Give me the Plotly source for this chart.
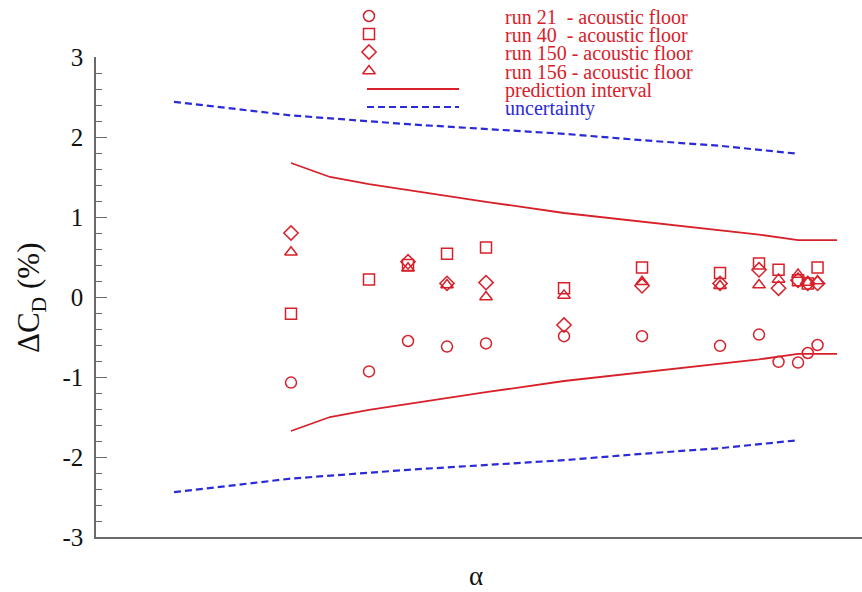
import plotly.graph_objects as go

# Angle-of-attack stations (arbitrary units; axis carries no tick labels)
alpha = [0, 2, 3, 4, 5, 7, 9, 11, 12, 12.5, 13, 13.25, 13.5]

# Delta C_D (%) per run
run21 = [-1.07, -0.93, -0.55, -0.62, -0.58, -0.49, -0.49, -0.61, -0.47, -0.81, -0.82, -0.70, -0.60]
run40 = [-0.21, 0.22, 0.40, 0.54, 0.62, 0.11, 0.37, 0.30, 0.42, 0.34, 0.21, 0.17, 0.37]
run150 = [0.80, None, 0.44, 0.17, 0.18, -0.35, 0.14, 0.17, 0.34, 0.11, 0.21, 0.17, 0.17]
run156 = [0.56, None, 0.36, 0.15, 0.00, 0.02, 0.19, 0.14, 0.15, 0.22, 0.28, 0.18, 0.20]

# Prediction interval half-width (%)
pi_alpha = [0, 1, 2, 4, 5, 7, 9, 11, 12, 13, 14]
pi_half = [1.675, 1.50, 1.41, 1.26, 1.19, 1.05, 0.94, 0.83, 0.78, 0.71, 0.71]

# Measurement uncertainty half-width (%)
unc_alpha = [-3, 0, 3, 5, 7, 9, 11, 13]
unc_half = [2.44, 2.27, 2.16, 2.10, 2.04, 1.96, 1.89, 1.79]

y_ticks = [-3, -2, -1, 0, 1, 2, 3]
y_ticktext = ["-3", "-2", "-1", "0", "1", "2", "3"]

RED = "#d8202a"
BLUE = "#2a2ad6"
AXIS = "#6a6a6a"
FONT = "Liberation Serif"

runs = [
    ("run 21  - acoustic floor", run21, "circle-open"),
    ("run 40  - acoustic floor", run40, "square-open"),
    ("run 150 - acoustic floor", run150, "diamond-open"),
    ("run 156 - acoustic floor", run156, "triangle-up-open"),
]

# Figure geometry (pixels)
W, H = 862, 592
M_L, M_B = 96, 55
AX_TOP = 57                      # pixel row of the top of the y axis
AREA_H = H - M_B                 # plot area spans 0..AREA_H vertically
Y_DOMAIN_TOP = (AREA_H - AX_TOP) / AREA_H

fig = go.Figure()

# Uncertainty band (dashed blue)
fig.add_trace(go.Scatter(x=unc_alpha, y=unc_half, mode="lines",
                         line=dict(color=BLUE, width=2.2, dash="7px,4px"),
                         showlegend=False, hoverinfo="skip"))
fig.add_trace(go.Scatter(x=unc_alpha, y=[-v for v in unc_half], mode="lines",
                         line=dict(color=BLUE, width=2.2, dash="7px,4px"),
                         showlegend=False, hoverinfo="skip"))

# Prediction interval (solid red)
fig.add_trace(go.Scatter(x=pi_alpha, y=pi_half, mode="lines",
                         line=dict(color=RED, width=1.8),
                         showlegend=False, hoverinfo="skip"))
fig.add_trace(go.Scatter(x=pi_alpha, y=[-v for v in pi_half], mode="lines",
                         line=dict(color=RED, width=1.8),
                         showlegend=False, hoverinfo="skip"))

# Run data
for name, vals, sym in runs:
    fig.add_trace(go.Scatter(x=alpha, y=vals, mode="markers", name=name,
                             marker=dict(symbol=sym, size=11, color=RED,
                                         line=dict(color=RED, width=1.5)),
                             showlegend=False))

# Key drawn on a separate pixel-space subplot covering the whole plot area
key_rows = [16, 34, 52, 71, 89, 107]
key_marker_x = 369
key_line_x = [367, 459]
key_text_x = 503
for (name, _, sym), ry in zip(runs, key_rows[:4]):
    fig.add_trace(go.Scatter(x=[key_marker_x], y=[ry], mode="markers",
                             xaxis="x2", yaxis="y2",
                             marker=dict(symbol=sym, size=11, color=RED,
                                         line=dict(color=RED, width=1.5)),
                             showlegend=False, hoverinfo="skip"))
fig.add_trace(go.Scatter(x=key_line_x, y=[key_rows[4]] * 2, mode="lines",
                         xaxis="x2", yaxis="y2",
                         line=dict(color=RED, width=1.8),
                         showlegend=False, hoverinfo="skip"))
fig.add_trace(go.Scatter(x=key_line_x, y=[key_rows[5]] * 2, mode="lines",
                         xaxis="x2", yaxis="y2",
                         line=dict(color=BLUE, width=2.2, dash="7px,4px"),
                         showlegend=False, hoverinfo="skip"))

key_labels = [r[0] for r in runs] + ["prediction interval", "uncertainty"]
key_colors = [RED] * 5 + [BLUE]
annotations = []
for lbl, col, ry in zip(key_labels, key_colors, key_rows):
    annotations.append(dict(x=key_text_x, y=ry + 1, xref="x2", yref="y2",
                            text=lbl.replace("  ", "&nbsp; "), showarrow=False,
                            xanchor="left", yanchor="middle",
                            font=dict(family=FONT, size=20, color=col)))

annotations.append(dict(x=(31 - M_L) / (W - M_L), y=(AREA_H - 298) / AREA_H,
                        xref="paper", yref="paper",
                        text="ΔC<sub>D</sub> (%)", textangle=-90, showarrow=False,
                        xanchor="center", yanchor="middle",
                        font=dict(family=FONT, size=31, color="#111111")))
annotations.append(dict(x=(476 - M_L) / (W - M_L), y=(AREA_H - 576) / AREA_H,
                        xref="paper", yref="paper",
                        text="α", showarrow=False,
                        xanchor="center", yanchor="middle",
                        font=dict(family=FONT, size=27, color="#111111")))

fig.update_layout(
    width=W, height=H,
    margin=dict(l=M_L, r=0, t=0, b=M_B, pad=0, autoexpand=False),
    paper_bgcolor="white", plot_bgcolor="rgba(0,0,0,0)",
    showlegend=False,
    annotations=annotations,
    xaxis=dict(range=[-5, 14.64], domain=[0, 1], showticklabels=False, ticks="",
               showgrid=False, zeroline=False, showline=True,
               linecolor=AXIS, linewidth=1.5, mirror=False),
    yaxis=dict(range=[-3, 3], domain=[0, Y_DOMAIN_TOP],
               tickvals=y_ticks, ticktext=y_ticktext,
               ticks="inside", ticklen=11, tickwidth=1.3, tickcolor=AXIS,
               ticklabelstandoff=6,
               minor=dict(dtick=0.2, ticks="inside", ticklen=6,
                          tickwidth=1.1, tickcolor=AXIS, showgrid=False),
               showgrid=False, zeroline=False, showline=True,
               linecolor=AXIS, linewidth=1.5,
               tickfont=dict(family=FONT, size=25, color="#111111")),
    xaxis2=dict(range=[M_L, W], domain=[0, 1], anchor="y2",
                visible=False, fixedrange=True),
    yaxis2=dict(range=[AREA_H, 0], domain=[0, 1], anchor="x2",
                visible=False, fixedrange=True),
)

fig.write_html("out.html")
